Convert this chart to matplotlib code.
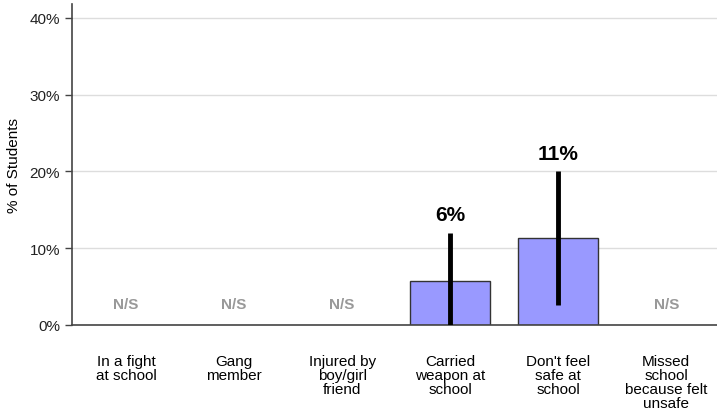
import matplotlib
matplotlib.use("Agg")
import matplotlib.pyplot as plt
import numpy as np

plt.rcParams['font.family'] = ['Liberation Sans', 'DejaVu Sans']

categories = ["In a fight\nat school", "Gang\nmember", "Injured by\nboy/girl\nfriend",
              "Carried\nweapon at\nschool", "Don't feel\nsafe at\nschool",
              "Missed\nschool\nbecause felt\nunsafe"]
values = [np.nan, np.nan, np.nan, 5.7, 11.3, np.nan]
err_low = [np.nan, np.nan, np.nan, 0.0, 2.6, np.nan]
err_high = [np.nan, np.nan, np.nan, 12.0, 20.0, np.nan]
labels = ["N/S", "N/S", "N/S", "6%", "11%", "N/S"]
yticks = [0, 10, 20, 30, 40]

fig = plt.figure(figsize=(7.17, 4.14), dpi=100)
ax = fig.add_axes([72/717, 88/414, 1 - 72/717, (326-5)/414])

x = np.arange(len(categories))
for i, v in enumerate(values):
    if np.isnan(v):
        ax.text(x[i], 2.7, labels[i], ha='center', va='center', fontsize=11,
                fontweight='bold', color='#999999')
    else:
        ax.bar(x[i], v, width=0.74, color='#9999FF', edgecolor='#333333', linewidth=1, zorder=2)
        ax.vlines(x[i], err_low[i], err_high[i], color='black', linewidth=3.5, zorder=3)
        ax.text(x[i], err_high[i] + 1.1, labels[i], ha='center', va='bottom', fontsize=15,
                fontweight='bold', color='black')

ax.set_xlim(-0.5, 5.47)
ax.set_ylim(0, 41.8)
ax.set_yticks(yticks)
ax.set_yticklabels([f"{t}%" for t in yticks], fontsize=11, color='#222222')
ax.yaxis.grid(True, color='#dddddd', linewidth=1, zorder=0)
ax.set_axisbelow(True)
ax.set_xticks(x)
ax.set_xticklabels(categories, fontsize=11, linespacing=1.0, va='top',
                   family=['Liberation Sans Narrow', 'Liberation Sans', 'DejaVu Sans'])
ax.tick_params(axis='x', length=0, pad=21)
ax.tick_params(axis='y', length=5, color='#444444', width=1)
ax.set_ylabel("% of Students", fontsize=11, labelpad=6)
for s in ['top', 'right']:
    ax.spines[s].set_visible(False)
ax.spines['left'].set_color('#444444')
ax.spines['bottom'].set_color('#444444')
ax.spines['left'].set_linewidth(1.2)
ax.spines['bottom'].set_linewidth(1.2)

fig.savefig("out.png", dpi=100)
